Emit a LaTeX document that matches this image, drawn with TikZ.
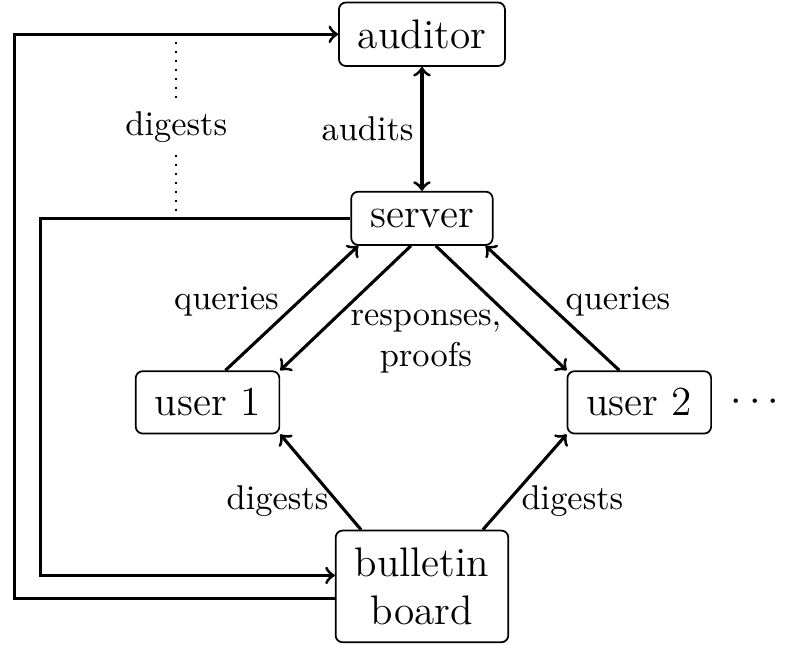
\documentclass[tikz,border=0pt]{standalone}
\usetikzlibrary{arrows}
\begin{document}
\begin{tikzpicture}[box/.style={draw,rounded corners=2pt,inner xsep=5.5pt,inner ysep=5pt,line width=0.5pt,font=\large},
  flow/.style={->,line width=0.9pt}]
%
\useasboundingbox (0,0) rectangle (8.09,-6.58);
\node[box] (auditor) at (4.31,-0.35) {auditor};
\node[box] (server) at (4.31,-2.23) {server};
\node[box] (user1) at (2.12,-4.11) {user 1};
\node[box] (user2) at (6.53,-4.11) {user 2};
\node[box,align=center] (board) at (4.31,-5.99) {bulletin\\board};
\node[font=\large] (dots) at (7.71,-4.11) {$\cdots$};
%
\draw[<->,line width=0.9pt] (auditor) -- node[left,inner sep=2pt]{audits} (server);
\draw[flow] ([xshift=5.2pt]user1.north) -- node[pos=0.55,left=2pt]{queries} ([xshift=2.3pt]server.south west);
\draw[flow] ([xshift=-3.2pt]server.south) -- (user1.north east);
\draw[flow] ([xshift=4pt]server.south) -- (user2.north west);
\draw[flow] ([xshift=-5.8pt]user2.north) -- node[pos=0.55,right=2pt]{queries} ([xshift=-2.3pt]server.south east);
\node[align=center] (resp) at (4.35,-3.49) {responses,\\proofs};
%
\draw[flow] ([xshift=-17.7pt]board.north) -- node[pos=0.3,left,inner sep=2pt]{digests} (user1.south east);
\draw[flow] ([xshift=17.7pt]board.north) -- node[pos=0.3,right,inner sep=3.5pt]{digests} (user2.south west);
%
\coordinate (inner) at (0.41,-3);
\coordinate (outer) at (0.15,-3);
\draw[flow] (server.west) -| (inner) |- ([yshift=3.2pt]board.west);
\draw[flow] ([yshift=-3.5pt]board.west) -| (outer) |- (auditor.west);
%
\coordinate (dtop) at (1.80,-0.43);
\coordinate (dbot) at (1.80,-2.16);
\node (dig) at (1.80,-1.30) {digests};
\draw[dotted,line width=0.6pt] (dtop) -- (dig) -- (dbot);
\end{tikzpicture}
\end{document}
